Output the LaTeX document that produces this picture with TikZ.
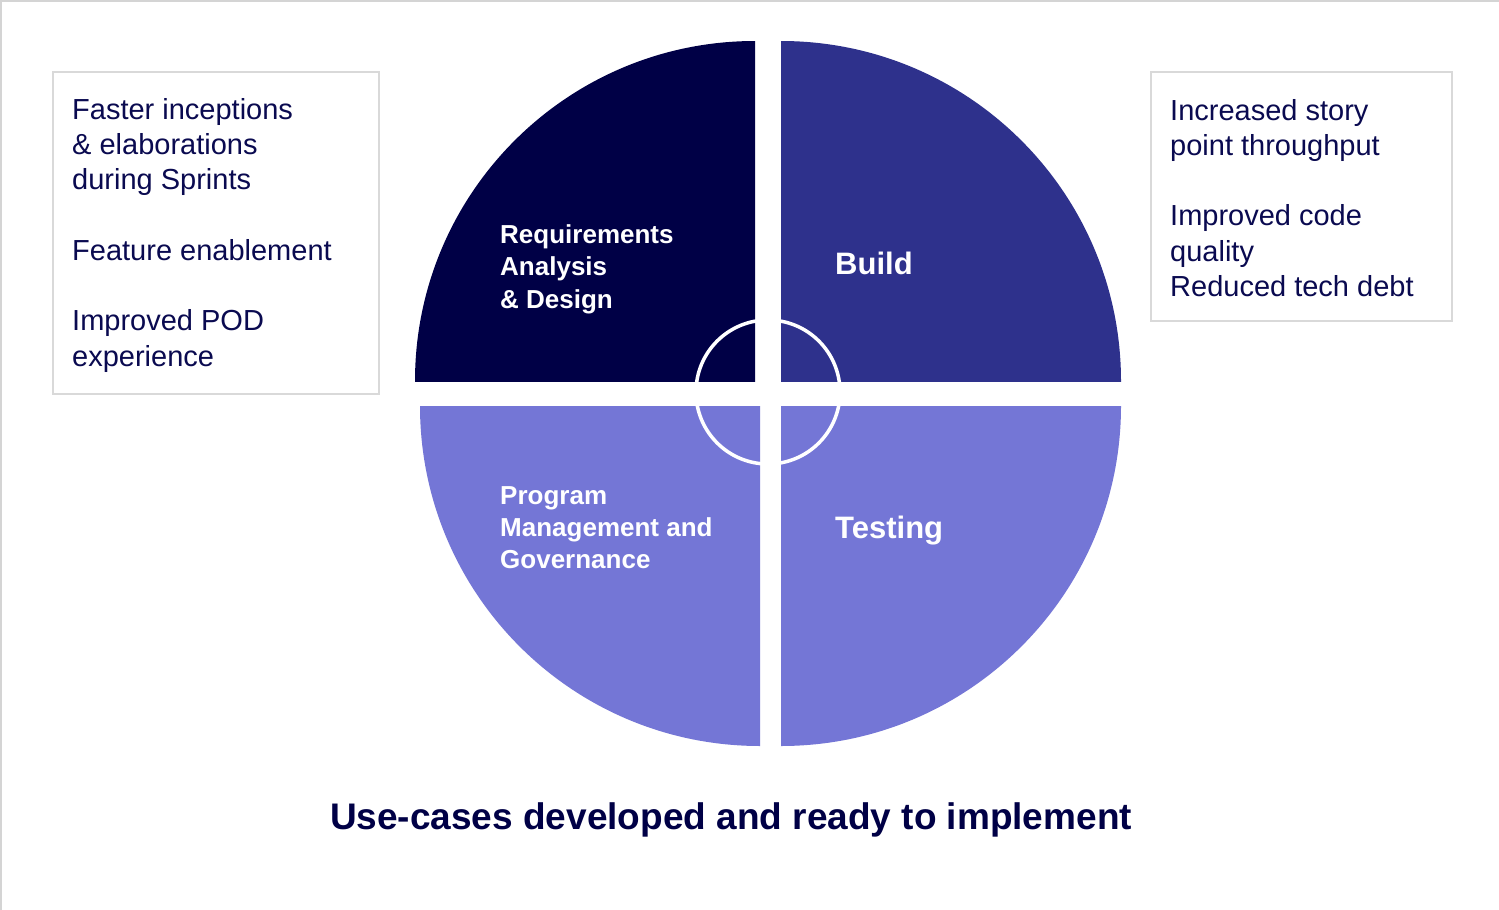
\documentclass[tikz,border=0pt]{standalone}
\usepackage{fontspec}
\setmainfont{Liberation Sans}
\definecolor{qdark}{HTML}{000046}
\definecolor{qmid}{HTML}{2E318C}
\definecolor{qlight}{HTML}{7476D6}
\definecolor{txt}{HTML}{0A0A50}
\definecolor{boxline}{HTML}{D9D9D9}
\definecolor{frame}{HTML}{D4D4D4}
\tikzset{
  infobox/.style={draw=boxline, line width=1.5pt, fill=white, inner sep=0, anchor=north west},
  infotext/.style={anchor=base west, inner sep=0, text=txt},
  qlabel/.style={anchor=base west, inner sep=0, text=white, font=\bfseries},
}
\begin{document}
\begin{tikzpicture}[x=1pt,y=-1pt]
\useasboundingbox (0,0) rectangle (1499,910);
\fill[white] (0,0) rectangle (1499,910);
\draw[frame, line width=1.5pt] (0.75,910) -- (0.75,0.75) -- (1499,0.75);

% quadrants
\begin{scope}
  \clip (400,30) rectangle (755,381);
  \fill[qdark] (755,381) circle[radius=340];
\end{scope}
\begin{scope}
  \clip (781,30) rectangle (1140,381);
  \fill[qmid] (781,381) circle[radius=340];
\end{scope}
\begin{scope}
  \clip (400,406) rectangle (760,760);
  \fill[qlight] (760,406) circle[radius=340];
\end{scope}
\begin{scope}
  \clip (781,406) rectangle (1140,760);
  \fill[qlight] (781,406) circle[radius=340];
\end{scope}
% inner ring
\node[circle, draw=white, line width=3.5pt, minimum size=144pt, inner sep=0] (ring) at (768,392) {};

% quadrant labels
\node[qlabel] (req) at (500,243) {\parbox[t]{240pt}{\fontsize{26}{32.6}\selectfont\bfseries Requirements\\ Analysis\\ \& Design}};
\node[qlabel] (build) at (835,274) {\fontsize{31}{37}\selectfont Build};
\node[qlabel] (prog) at (500,504.5) {\parbox[t]{250pt}{\fontsize{26}{32}\selectfont\bfseries Program\\ Management and\\ Governance}};
\node[qlabel] (test) at (835,538) {\fontsize{31}{37}\selectfont Testing};

% side boxes
\node[infobox, minimum width=326pt, minimum height=322pt] (lbox) at (52,71) {};
\node[infotext] (ltext) at (72,119) {\parbox[t]{300pt}{\fontsize{29}{35.3}\selectfont
Faster inceptions\\ \& elaborations\\ during Sprints\\[35.3pt]
Feature enablement\\[35.3pt]
Improved POD\\ experience}};

\node[infobox, minimum width=301pt, minimum height=249pt] (rbox) at (1150,71) {};
\node[infotext] (rtext) at (1170,120) {\parbox[t]{280pt}{\fontsize{29}{35.3}\selectfont
Increased story\\ point throughput\\[35.3pt]
Improved code\\ quality\\ Reduced tech debt}};

% title
\node[anchor=base, inner sep=0, text=qdark, font=\bfseries] (title) at (731,829) {\fontsize{37}{44}\selectfont Use-cases developed and ready to implement};
\end{tikzpicture}
\end{document}
